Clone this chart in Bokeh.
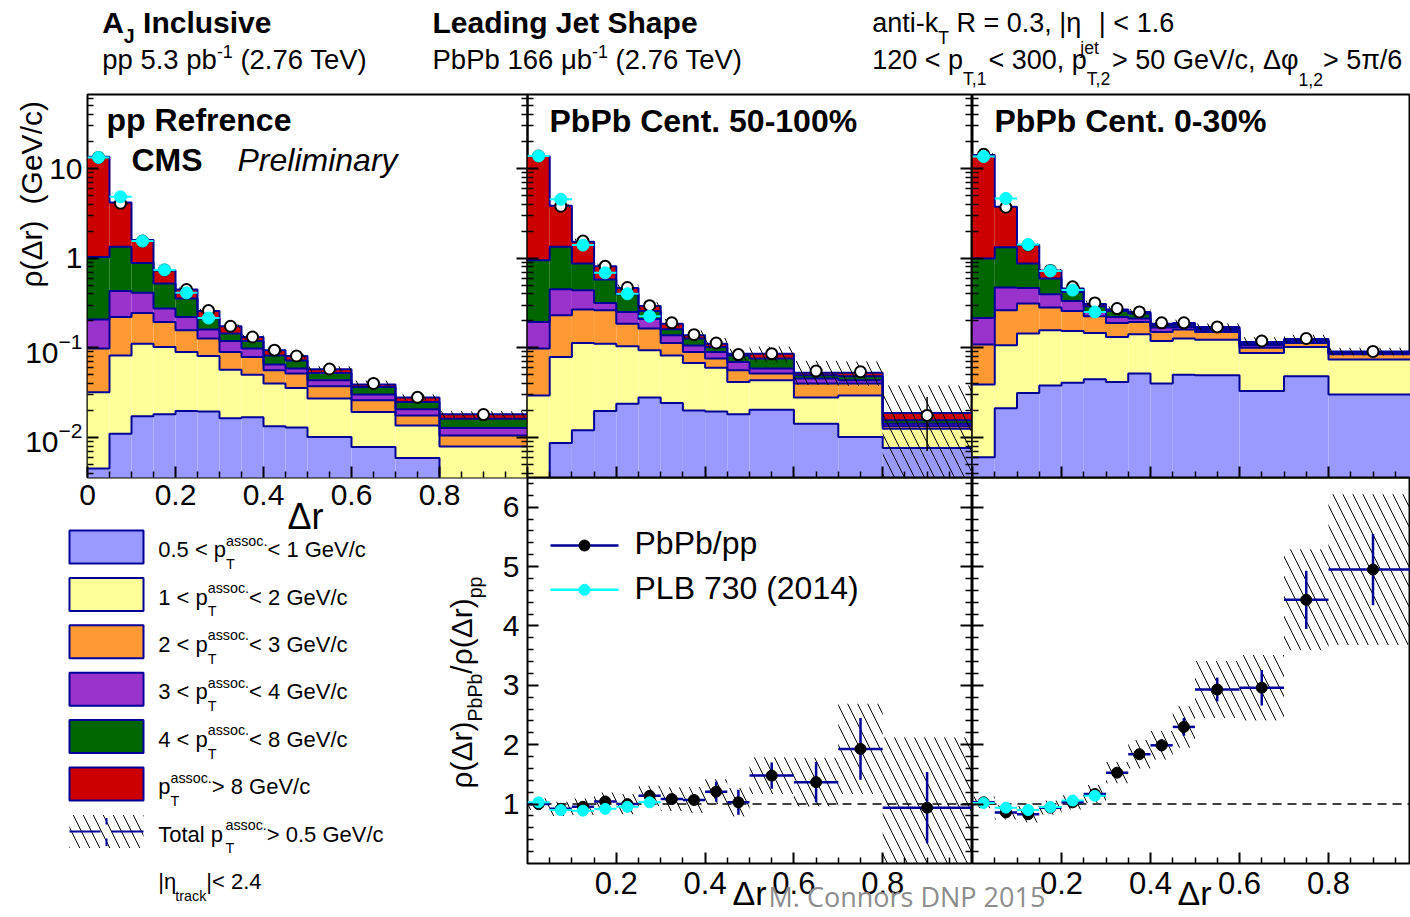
import math
import numpy as np
from bokeh.plotting import figure
from bokeh.layouts import column
from bokeh.models import (ColumnDataSource, Range1d, LogScale, LinearAxis, LogAxis,
                          FixedTicker, CustomJSTickFormatter, Span)
from bokeh.embed import file_html
from bokeh.resources import INLINE

# ---------------- data ----------------
DR_EDGES = [0.0, 0.05, 0.10, 0.15, 0.20, 0.25, 0.30, 0.35, 0.40, 0.45, 0.50, 0.60, 0.70, 0.80, 1.00]

# cumulative stack levels (top of each pT^assoc layer) -- pp reference
pp_lvl_05_1 = [0.0045, 0.011, 0.0172, 0.0181, 0.0197, 0.0195, 0.0164, 0.0168, 0.0133, 0.0129, 0.0101, 0.0078, 0.0059, 0.001]
pp_lvl_1_2 = [0.032, 0.082, 0.111, 0.102, 0.0897, 0.081, 0.057, 0.050, 0.040, 0.0356, 0.0271, 0.0192, 0.0136, 0.0079]
pp_lvl_2_3 = [0.098, 0.22, 0.245, 0.194, 0.157, 0.127, 0.0897, 0.079, 0.056, 0.0515, 0.0372, 0.0259, 0.0176, 0.0105]
pp_lvl_3_4 = [0.207, 0.43, 0.41, 0.274, 0.221, 0.160, 0.119, 0.098, 0.065, 0.0586, 0.0434, 0.0302, 0.0206, 0.0127]
pp_lvl_4_8 = [1.03, 1.34, 0.885, 0.52, 0.355, 0.212, 0.144, 0.119, 0.082, 0.072, 0.0523, 0.0365, 0.0248, 0.0162]
pp_lvl_8 = [13.5, 4.19, 1.59, 0.73, 0.447, 0.258, 0.174, 0.132, 0.094, 0.081, 0.0575, 0.039, 0.0278, 0.0181]
pp_total = [13.3, 4.1, 1.55, 0.74, 0.447, 0.26, 0.174, 0.132, 0.094, 0.081, 0.058, 0.040, 0.028, 0.018]
pp_syst = [0.03, 0.03, 0.03, 0.04, 0.05, 0.05, 0.05, 0.06, 0.06, 0.06, 0.07, 0.08, 0.08, 0.09]
pp_stat = [0.005, 0.005, 0.005, 0.005, 0.01, 0.01, 0.01, 0.01, 0.01, 0.01, 0.01, 0.01, 0.02, 0.02]
pp_plb = [13.3, 4.84, 1.55, 0.74, 0.41, 0.215]

# PbPb 50-100%
pb50_lvl_05_1 = [0.001, 0.00865, 0.012, 0.0197, 0.0237, 0.0278, 0.0242, 0.020, 0.0195, 0.0181, 0.0204, 0.0142, 0.0101, 0.0076]
pb50_lvl_1_2 = [0.0294, 0.079, 0.113, 0.111, 0.104, 0.094, 0.082, 0.0677, 0.060, 0.0415, 0.0434, 0.0278, 0.0294, 0.0125]
pb50_lvl_2_3 = [0.098, 0.231, 0.267, 0.262, 0.186, 0.164, 0.113, 0.0897, 0.076, 0.056, 0.0515, 0.040, 0.040, 0.0133]
pb50_lvl_3_4 = [0.194, 0.45, 0.439, 0.317, 0.251, 0.21, 0.138, 0.106, 0.0897, 0.0693, 0.0586, 0.0453, 0.0434, 0.0142]
pb50_lvl_4_8 = [0.95, 1.34, 0.873, 0.578, 0.396, 0.258, 0.161, 0.127, 0.102, 0.082, 0.076, 0.0493, 0.048, 0.0155]
pb50_lvl_8 = [13.8, 3.84, 1.52, 0.814, 0.466, 0.293, 0.186, 0.138, 0.111, 0.086, 0.086, 0.0528, 0.0528, 0.0187]
pb50_total = [13.8, 3.8, 1.55, 0.81, 0.47, 0.295, 0.19, 0.14, 0.113, 0.084, 0.086, 0.055, 0.054, 0.0176]
pb50_syst = [0.04, 0.05, 0.06, 0.07, 0.08, 0.09, 0.10, 0.12, 0.14, 0.16, 0.20, 0.30, 0.30, 1.15]
pb50_stat = [0.01, 0.01, 0.01, 0.01, 0.02, 0.02, 0.02, 0.03, 0.04, 0.05, 0.06, 0.10, 0.12, 0.60]
pb50_plb = [13.8, 4.53, 1.40, 0.686, 0.40, 0.225]

# PbPb 0-30%
pb30_lvl_05_1 = [0.006, 0.0212, 0.0313, 0.038, 0.0408, 0.0445, 0.0415, 0.0515, 0.040, 0.050, 0.0493, 0.0329, 0.048, 0.0302]
pb30_lvl_1_2 = [0.039, 0.107, 0.144, 0.157, 0.154, 0.146, 0.132, 0.142, 0.119, 0.127, 0.123, 0.0875, 0.102, 0.0738]
pb30_lvl_2_3 = [0.109, 0.262, 0.312, 0.281, 0.258, 0.225, 0.189, 0.194, 0.150, 0.160, 0.150, 0.10, 0.113, 0.0845]
pb30_lvl_3_4 = [0.215, 0.471, 0.466, 0.396, 0.333, 0.251, 0.221, 0.212, 0.168, 0.171, 0.157, 0.107, 0.119, 0.0875]
pb30_lvl_4_8 = [0.99, 1.32, 0.873, 0.593, 0.42, 0.291, 0.258, 0.241, 0.178, 0.181, 0.164, 0.111, 0.121, 0.089]
pb30_lvl_8 = [14.2, 3.74, 1.40, 0.73, 0.459, 0.307, 0.267, 0.251, 0.186, 0.189, 0.171, 0.116, 0.125, 0.091]
pb30_total = [14.4, 3.7, 1.40, 0.73, 0.479, 0.317, 0.274, 0.251, 0.19, 0.19, 0.171, 0.119, 0.127, 0.091]
pb30_syst = [0.03, 0.03, 0.04, 0.04, 0.05, 0.06, 0.06, 0.07, 0.07, 0.08, 0.09, 0.10, 0.10, 0.10]
pb30_stat = [0.01, 0.01, 0.01, 0.01, 0.01, 0.01, 0.02, 0.02, 0.02, 0.02, 0.03, 0.03, 0.04, 0.04]
pb30_plb = [13.6, 4.64, 1.42, 0.72, 0.44, 0.251]

# ratios PbPb/pp
r50_val = [1.0, 0.92, 0.955, 1.045, 1.0, 1.14, 1.085, 1.07, 1.21, 1.03, 1.48, 1.37, 1.93, 0.94]
r50_stat = [0.02, 0.02, 0.03, 0.03, 0.03, 0.04, 0.04, 0.06, 0.17, 0.21, 0.22, 0.34, 0.52, 0.60]
r50_syst = [0.10, 0.12, 0.14, 0.15, 0.17, 0.17, 0.20, 0.22, 0.21, 0.24, 0.31, 0.41, 0.76, 1.18]
r50_plb = [1.03, 0.90, 0.89, 0.92, 0.955, 1.03]

r30_val = [1.03, 0.86, 0.83, 0.94, 1.03, 1.17, 1.53, 1.84, 1.99, 2.30, 2.93, 2.96, 4.44, 4.95]
r30_stat = [0.02, 0.02, 0.02, 0.03, 0.03, 0.04, 0.05, 0.08, 0.10, 0.15, 0.20, 0.30, 0.49, 0.60]
r30_syst = [0.10, 0.12, 0.14, 0.12, 0.12, 0.15, 0.18, 0.24, 0.24, 0.35, 0.48, 0.55, 0.85, 1.27]
r30_plb = [1.02, 0.94, 0.90, 0.95, 1.06, 1.14]

# ticks
LOG_MAJOR = [0.01, 0.1, 1, 10]
LOG_MINOR = [0.004, 0.005, 0.006, 0.007, 0.008, 0.009,
             0.02, 0.03, 0.04, 0.05, 0.06, 0.07, 0.08, 0.09,
             0.2, 0.3, 0.4, 0.5, 0.6, 0.7, 0.8, 0.9,
             2, 3, 4, 5, 6, 7, 8, 9, 20, 30, 40, 50, 60]
X_MAJOR = [0, 0.2, 0.4, 0.6, 0.8]
RX_MAJOR = [0.2, 0.4, 0.6, 0.8]
X_MINOR = [0.05, 0.1, 0.15, 0.25, 0.3, 0.35, 0.45, 0.5, 0.55, 0.65, 0.7, 0.75, 0.85, 0.9, 0.95]
RY_MAJOR = [1, 2, 3, 4, 5, 6]
RY_MINOR = [0.2, 0.4, 0.6, 0.8, 1.2, 1.4, 1.6, 1.8, 2.2, 2.4, 2.6, 2.8, 3.2, 3.4, 3.6, 3.8,
            4.2, 4.4, 4.6, 4.8, 5.2, 5.4, 5.6, 5.8, 6.2, 6.4]

# ---------------- style / layout ----------------
W, H = 1410, 917
FONT = "Liberation Sans"
NAVY = "#000099"
CYAN = "#00FFFF"
LAYER_COLORS = ["#9999FF", "#FFFF99", "#FF9933", "#9933CC", "#006600", "#CC0000"]
FLOOR = 1e-4
Y_LOG = (0.00357, 67.0)
Y_RAT = (0.0, 6.5)
TOP_Y0, TOP_Y1, BOT_Y1 = 94, 477, 863
X1A, X1B, X2A, X2B, X3A = 87, 527, 527, 971, 972
P3_XMAX = (W - X3A) / 445.0
HATCH = dict(hatch_pattern="\\", hatch_color="black", hatch_weight=1, hatch_scale=20)

edges = np.array(DR_EDGES)
left, right = edges[:-1], edges[1:]
center = 0.5 * (left + right)


def mk(xr, yr, fx0, fx1, fy0, fy1, log=False):
    p = figure(width=W, height=H, x_range=Range1d(*xr), y_range=Range1d(*yr),
               x_axis_type=None, y_axis_type=None, toolbar_location=None,
               output_backend="svg", sizing_mode="fixed",
               min_border_left=fx0, min_border_right=W - fx1,
               min_border_top=fy0, min_border_bottom=H - fy1)
    p.frame_align = False
    if log:
        p.y_scale = LogScale()
    p.background_fill_color = None
    p.border_fill_color = None
    p.outline_line_color = "black"
    p.outline_line_width = 2
    return p


def axis(p, side, log, major, minor, labels=False, size="30px", standoff=6, overrides=None):
    A = LogAxis if log else LinearAxis
    a = A(ticker=FixedTicker(ticks=major, minor_ticks=minor))
    a.axis_line_color = None
    a.major_tick_in, a.major_tick_out = 11, 0
    a.minor_tick_in, a.minor_tick_out = 6, 0
    a.major_tick_line_width = 2
    a.minor_tick_line_width = 1.5
    a.major_tick_line_color = "black"
    a.minor_tick_line_color = "black"
    if labels:
        a.major_label_text_font = FONT
        a.major_label_text_font_size = size
        a.major_label_text_color = "black"
        a.major_label_standoff = standoff
        if overrides:
            a.major_label_overrides = overrides
    else:
        a.formatter = CustomJSTickFormatter(code="return ''")
        a.major_label_standoff = 0
    p.add_layout(a, side)


def draw_top(p, levels, total, syst, stat, plb):
    bottoms = [np.full(len(left), FLOOR)] + [np.array(l) for l in levels[:-1]]
    for col, lo, hi in zip(LAYER_COLORS, bottoms, levels):
        p.quad(left=left, right=right, bottom=lo, top=np.array(hi),
               fill_color=col, line_color=None)
    for lv in levels:
        p.step(x=DR_EDGES, y=list(lv) + [lv[-1]], mode="after", line_color=NAVY, line_width=2)
    tot, s, st = np.array(total), np.array(syst), np.array(stat)
    p.quad(left=left, right=right, bottom=np.maximum(tot * (1 - s), FLOOR), top=tot * (1 + s),
           fill_alpha=0, line_color=None, **HATCH)
    p.segment(x0=center, y0=np.maximum(tot * (1 - st), FLOOR), x1=center, y1=tot * (1 + st),
              line_color="black", line_width=1.5)
    p.scatter(center, tot, size=11, fill_color="white", line_color="black", line_width=2)
    n = len(plb)
    p.segment(x0=left[:n], y0=plb, x1=right[:n], y1=plb, line_color=CYAN, line_width=2)
    p.scatter(center[:n], plb, size=12, fill_color=CYAN, line_color=CYAN)


def draw_ratio(p, val, stat, syst, plb):
    v, e, s = np.array(val), np.array(stat), np.array(syst)
    p.add_layout(Span(location=1, dimension="width", line_color="black",
                      line_dash="9 6", line_width=1.5, level="underlay"))
    p.quad(left=left, right=right, bottom=np.maximum(v - s, 0), top=v + s,
           fill_alpha=0, line_color=None, **HATCH)
    p.segment(x0=left, y0=v, x1=right, y1=v, line_color=NAVY, line_width=2.5)
    p.segment(x0=center, y0=v - e, x1=center, y1=v + e, line_color=NAVY, line_width=2.5)
    p.scatter(center, v, size=11, fill_color="black", line_color="black")
    n = len(plb)
    p.segment(x0=left[:n], y0=plb, x1=right[:n], y1=plb, line_color=CYAN, line_width=2)
    p.scatter(center[:n], plb, size=11, fill_color=CYAN, line_color=CYAN)


# ---------------- panels ----------------
p1 = mk((0, 1), Y_LOG, X1A, X1B, TOP_Y0, TOP_Y1, log=True)
p2 = mk((0, 1), Y_LOG, X2A, X2B, TOP_Y0, TOP_Y1, log=True)
p3 = mk((0, P3_XMAX), Y_LOG, X3A, W, TOP_Y0, TOP_Y1, log=True)
p4 = mk((0, 1), Y_RAT, X2A, X2B, TOP_Y1, BOT_Y1)
p5 = mk((0, P3_XMAX), Y_RAT, X3A, W, TOP_Y1, BOT_Y1)

draw_top(p1, [pp_lvl_05_1, pp_lvl_1_2, pp_lvl_2_3, pp_lvl_3_4, pp_lvl_4_8, pp_lvl_8],
         pp_total, pp_syst, pp_stat, pp_plb)
draw_top(p2, [pb50_lvl_05_1, pb50_lvl_1_2, pb50_lvl_2_3, pb50_lvl_3_4, pb50_lvl_4_8, pb50_lvl_8],
         pb50_total, pb50_syst, pb50_stat, pb50_plb)
draw_top(p3, [pb30_lvl_05_1, pb30_lvl_1_2, pb30_lvl_2_3, pb30_lvl_3_4, pb30_lvl_4_8, pb30_lvl_8],
         pb30_total, pb30_syst, pb30_stat, pb30_plb)
draw_ratio(p4, r50_val, r50_stat, r50_syst, r50_plb)
draw_ratio(p5, r30_val, r30_stat, r30_syst, r30_plb)

axis(p1, "left", True, LOG_MAJOR, LOG_MINOR, labels=True, size="30px", standoff=5,
     overrides={1: "1", 10: "10"})
axis(p1, "right", True, LOG_MAJOR, LOG_MINOR)
axis(p1, "below", False, X_MAJOR, X_MINOR, labels=True, size="30px", standoff=7)
axis(p2, "left", True, LOG_MAJOR, LOG_MINOR)
axis(p2, "right", True, LOG_MAJOR, LOG_MINOR)
axis(p2, "below", False, X_MAJOR, X_MINOR)
axis(p3, "left", True, LOG_MAJOR, LOG_MINOR)
axis(p3, "below", False, X_MAJOR, X_MINOR)
axis(p4, "left", False, RY_MAJOR, RY_MINOR, labels=True, size="30px", standoff=8)
axis(p4, "right", False, RY_MAJOR, RY_MINOR)
axis(p4, "below", False, RX_MAJOR, X_MINOR, labels=True, size="31px", standoff=8)
axis(p5, "left", False, RY_MAJOR, RY_MINOR)
axis(p5, "below", False, RX_MAJOR, X_MINOR, labels=True, size="31px", standoff=8)

# ---------------- overlay: texts & legends ----------------
ARIAL = {' ': 278, '!': 278, '%': 889, '(': 333, ')': 333, '+': 584, ',': 278, '-': 333, '.': 278,
         '/': 278, ':': 278, '<': 584, '=': 584, '>': 584, '|': 260,
         'A': 667, 'B': 667, 'C': 722, 'D': 722, 'E': 667, 'F': 611, 'G': 778, 'H': 722, 'I': 278,
         'J': 500, 'K': 667, 'L': 556, 'M': 833, 'N': 722, 'O': 778, 'P': 667, 'R': 722, 'S': 667,
         'T': 611, 'V': 667, 'a': 556, 'b': 556, 'c': 500, 'd': 556, 'e': 556, 'f': 278, 'g': 556,
         'h': 556, 'i': 222, 'j': 222, 'k': 500, 'l': 222, 'm': 833, 'n': 556, 'o': 556, 'p': 556,
         'r': 333, 's': 500, 't': 278, 'u': 556, 'v': 500, 'y': 500,
         'η': 520, 'Δ': 668, 'φ': 650, 'π': 560, 'μ': 576, 'ρ': 570}
ARIAL_B = dict(ARIAL)
ARIAL_B.update({'A': 722, 'B': 722, 'J': 556, 'L': 611, 'a': 556, 'b': 611, 'c': 556, 'd': 611,
                'e': 556, 'f': 333, 'g': 611, 'h': 611, 'i': 278, 'l': 278, 'm': 889, 'n': 611,
                'o': 611, 'p': 611, 'r': 389, 's': 556, 't': 333, 'u': 611, 'v': 556, 'y': 556})
SUB_K = 0.65
BASE_FIX = 0.34   # Bokeh draws an 'alphabetic' anchor about a third of an em low
T = dict(x=[], y=[], text=[], size=[], style=[], color=[], font=[], angle=[], align=[])


def tw(s, size, bold):
    tbl = ARIAL_B if bold else ARIAL
    return sum(tbl.get(c, 556) for c in s) * size / 1000.0


def put(x, y, s, size, style="normal", color="black", font=FONT, angle=0.0, align="left"):
    nx, ny = math.sin(angle), math.cos(angle)
    T["x"].append(x - BASE_FIX * size * nx); T["y"].append(y - BASE_FIX * size * ny)
    T["text"].append(s)
    T["size"].append("%.1fpx" % size); T["style"].append(style); T["color"].append(color)
    T["font"].append(font); T["angle"].append(angle); T["align"].append(align)


def rich(x, y, segs, size, style="normal", color="black", angle=0.0):
    bold = style == "bold"
    ax, ay = math.cos(angle), -math.sin(angle)
    nx, ny = math.sin(angle), math.cos(angle)
    pos = 0.0
    s2 = size * SUB_K
    for seg in segs:
        kind = seg[0]
        if kind == "n":
            txt = seg[1]
            lead = len(txt) - len(txt.lstrip(" "))
            pos += tw(" " * lead, size, bold)
            bx, by = x + ax * pos, y + ay * pos
            put(bx, by, txt.strip(" "), size, style, color, angle=angle)
            pos += tw(txt.lstrip(" "), size, bold)
        elif kind in ("sub", "sup"):
            bx, by = x + ax * pos, y + ay * pos
            off = (seg[2] if len(seg) > 2 else (0.38 if kind == "sub" else 0.45)) * size
            if kind == "sup":
                off = -off
            put(bx + nx * off, by + ny * off, seg[1], s2, style, color, angle=angle)
            pos += tw(seg[1], s2, bold)
        elif kind == "ss":
            bx, by = x + ax * pos, y + ay * pos
            off = (seg[3] if len(seg) > 3 else 0.5) * size
            put(bx + nx * off, by + ny * off, seg[1], s2, style, color, angle=angle)
            put(bx - nx * off, by - ny * off, seg[2], s2, style, color, angle=angle)
            pos += max(tw(seg[1], s2, bold), tw(seg[2], s2, bold))
        elif kind == "gap":
            pos += seg[1]


# header
rich(101.7, 31.7, [("n", "A"), ("sub", "J", 0.35), ("n", " Inclusive")], 30, "bold")
rich(101.7, 68.3, [("n", "pp 5.3 pb"), ("sup", "-1", 0.42), ("n", " (2.76 TeV)")], 27.5)
rich(432, 31.7, [("n", "Leading Jet Shape")], 30, "bold")
rich(432, 68.3, [("n", "PbPb 166 μb"), ("sup", "-1", 0.42), ("n", " (2.76 TeV)")], 27.5)
rich(871.7, 31.7, [("n", "anti-k"), ("sub", "T", 0.42), ("n", " R = 0.3, |η"), ("sub", "jet", 0.8),
                   ("n", "| < 1.6")], 27)
rich(871.7, 68.3, [("n", "120 < p"), ("sub", "T,1", 0.6), ("n", "< 300, p"), ("sub", "T,2", 0.6),
                   ("n", "> 50 GeV/c, Δφ"), ("sub", "1,2", 0.6), ("n", "> 5π/6")], 27)

# panel titles
rich(106, 130, [("n", "pp Refrence")], 32, "bold")
rich(131, 170, [("n", "CMS")], 32, "bold")
rich(237, 170, [("n", "Preliminary")], 32, "italic")
rich(549, 131.7, [("n", "PbPb Cent. 50-100%")], 32, "bold")
rich(994, 131.7, [("n", "PbPb Cent. 0-30%")], 32, "bold")

# axis titles
rich(41, 287, [("n", "ρ(Δr)"), ("gap", 16), ("n", "(GeV/c)")], 30, angle=math.pi / 2)
rich(471, 788, [("n", "ρ(Δr)"), ("sub", "PbPb", 0.33), ("n", "/ρ(Δr)"), ("sub", "pp", 0.33)], 30,
     angle=math.pi / 2)
put(305, 528, "Δr", 36, align="center")
put(749, 904, "Δr", 34, align="center")
put(1194, 904, "Δr", 34, align="center")
put(768, 905, "M. Connors DNP 2015", 27, color="#8c8c8c", font="Open Sans")

# left legend
LEG_X0, LEG_X1, LEG_TOP, LEG_STEP, LEG_H = 69, 143, 530, 47.4, 33
LEG_TEXT_X, LEG_BASE = 157.7, 556.7
LEGEND_LABELS = [
    [("n", "0.5 < p"), ("ss", "T", "assoc.", 0.53), ("n", "< 1 GeV/c")],
    [("n", "1 < p"), ("ss", "T", "assoc.", 0.53), ("n", "< 2 GeV/c")],
    [("n", "2 < p"), ("ss", "T", "assoc.", 0.53), ("n", "< 3 GeV/c")],
    [("n", "3 < p"), ("ss", "T", "assoc.", 0.53), ("n", "< 4 GeV/c")],
    [("n", "4 < p"), ("ss", "T", "assoc.", 0.53), ("n", "< 8 GeV/c")],
    [("n", "p"), ("ss", "T", "assoc.", 0.53), ("n", "> 8 GeV/c")],
    [("n", "Total p"), ("ss", "T", "assoc.", 0.53), ("n", "> 0.5 GeV/c")],
    [("n", "|η"), ("sub", "track", 0.53), ("n", "|< 2.4")],
]
for i, segs in enumerate(LEGEND_LABELS):
    rich(LEG_TEXT_X, LEG_BASE + i * LEG_STEP, segs, 22)

ov = figure(width=W, height=H, x_range=Range1d(0, W), y_range=Range1d(H, 0),
            x_axis_type=None, y_axis_type=None, toolbar_location=None,
            output_backend="svg", sizing_mode="fixed", min_border=0)
ov.frame_align = False
ov.outline_line_color = None
ov.background_fill_color = None
ov.border_fill_color = None

rows = np.arange(len(LAYER_COLORS))
ov.quad(left=LEG_X0, right=LEG_X1, top=LEG_TOP + rows * LEG_STEP,
        bottom=LEG_TOP + rows * LEG_STEP + LEG_H, fill_color=LAYER_COLORS,
        line_color=NAVY, line_width=2)
ty = LEG_TOP + 6 * LEG_STEP
ov.quad(left=LEG_X0, right=LEG_X1, top=ty, bottom=ty + LEG_H, fill_alpha=0, line_color=None,
        **HATCH)
cy = ty + LEG_H / 2
ov.segment(x0=[LEG_X0, 111], y0=[cy, cy], x1=[100, LEG_X1], y1=[cy, cy], line_color=NAVY, line_width=2)
ov.segment(x0=[106, 106], y0=[ty + 3, cy + 7], x1=[106, 106], y1=[cy - 7, ty + LEG_H - 2],
           line_color=NAVY, line_width=2)

# ratio legend
RL_X0, RL_X1, RL_Y = 550, 618, [545, 589.3]
ov.segment(x0=[RL_X0, RL_X0], y0=RL_Y, x1=[RL_X1, RL_X1], y1=RL_Y,
           line_color=[NAVY, CYAN], line_width=2.5)
ov.scatter(x=[(RL_X0 + RL_X1) / 2] * 2, y=RL_Y, size=[11, 11],
           fill_color=["black", CYAN], line_color=["black", CYAN])
rich(634, 553, [("n", "PbPb/pp")], 32)
rich(634, 598.3, [("n", "PLB 730 (2014)")], 32)

ov.text(x="x", y="y", text="text", source=ColumnDataSource(T), text_font="font",
        text_font_size="size", text_font_style="style", text_color="color", angle="angle",
        text_align="align", text_baseline="alphabetic")

figs = [p1, p2, p3, p4, p5, ov]
for f in figs[1:]:
    f.margin = (-H, 0, 0, 0)
page = column(*figs, spacing=0, sizing_mode="fixed", width=W, height=H)
open("out.html", "w").write(file_html(page, INLINE))
